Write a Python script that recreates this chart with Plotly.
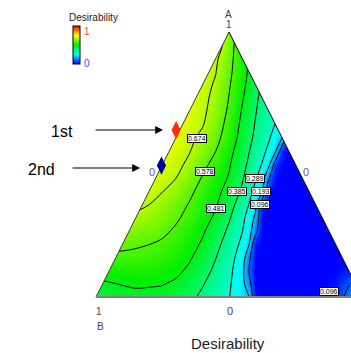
import plotly.graph_objects as go

# ---------------- data ----------------
# grid coordinates of the mixture triangle: u = C + A/2 (along base B->C), v = A (height)
grid_u = [0.00, 0.05, 0.10, 0.15, 0.20, 0.25, 0.30, 0.35, 0.40, 0.45, 0.50, 0.55,
          0.575, 0.60, 0.625, 0.65, 0.675, 0.70, 0.725,
          0.75, 0.80, 0.85, 0.90, 0.95, 1.00]
grid_v = [0.00, 0.05, 0.10, 0.15, 0.20, 0.25, 0.30, 0.35, 0.40, 0.45, 0.50,
          0.55, 0.60, 0.65, 0.70, 0.75, 0.80, 0.85, 0.90, 0.95, 1.00]

# desirability (rows = grid_v, columns = grid_u)
desirability = [
    [0.440, 0.447, 0.456, 0.461, 0.460, 0.456, 0.438, 0.406, 0.369, 0.331, 0.292, 0.230, 0.198, 0.010, 0, 0, 0, 0, 0, 0, 0, 0, 0.040, 0.130, 0.200],
    [0.467, 0.477, 0.485, 0.492, 0.489, 0.485, 0.469, 0.436, 0.392, 0.346, 0.301, 0.224, 0.132, 0, 0, 0, 0, 0, 0, 0, 0, 0, 0.020, 0.090, 0.150],
    [0.505, 0.514, 0.521, 0.525, 0.521, 0.513, 0.500, 0.467, 0.421, 0.366, 0.313, 0.222, 0.090, 0, 0, 0, 0, 0, 0, 0, 0, 0, 0, 0.030, 0.080],
    [0.545, 0.553, 0.560, 0.558, 0.552, 0.540, 0.522, 0.493, 0.445, 0.388, 0.328, 0.240, 0.121, 0, 0, 0, 0, 0, 0, 0, 0, 0, 0, 0, 0.020],
    [0.615, 0.606, 0.597, 0.588, 0.579, 0.565, 0.543, 0.511, 0.472, 0.411, 0.346, 0.268, 0.199, 0.015, 0, 0, 0, 0, 0, 0, 0, 0, 0, 0, 0],
    [0.670, 0.654, 0.637, 0.625, 0.615, 0.595, 0.566, 0.529, 0.493, 0.438, 0.369, 0.292, 0.230, 0.127, 0, 0, 0, 0, 0, 0, 0, 0, 0, 0, 0],
    [0.680, 0.675, 0.670, 0.661, 0.645, 0.619, 0.591, 0.554, 0.514, 0.468, 0.395, 0.311, 0.253, 0.172, 0, 0, 0, 0, 0, 0, 0, 0, 0, 0, 0],
    [0.700, 0.700, 0.695, 0.690, 0.675, 0.642, 0.608, 0.574, 0.532, 0.490, 0.423, 0.337, 0.288, 0.221, 0.035, 0, 0, 0, 0, 0, 0, 0, 0, 0, 0],
    [0.720, 0.720, 0.715, 0.710, 0.696, 0.677, 0.639, 0.596, 0.551, 0.507, 0.450, 0.372, 0.319, 0.261, 0.195, 0, 0, 0, 0, 0, 0, 0, 0, 0, 0],
    [0.730, 0.730, 0.730, 0.725, 0.720, 0.699, 0.676, 0.625, 0.573, 0.525, 0.475, 0.394, 0.347, 0.300, 0.234, 0.109, 0, 0, 0, 0, 0, 0, 0, 0, 0],
    [0.735, 0.735, 0.735, 0.735, 0.730, 0.720, 0.694, 0.659, 0.603, 0.546, 0.490, 0.412, 0.370, 0.328, 0.283, 0.208, 0.052, 0, 0, 0, 0, 0, 0, 0, 0],
    [0.740, 0.740, 0.740, 0.740, 0.740, 0.735, 0.710, 0.679, 0.631, 0.578, 0.508, 0.430, 0.388, 0.351, 0.313, 0.265, 0.196, 0.026, 0, 0, 0, 0, 0, 0, 0],
    [0.740, 0.740, 0.740, 0.740, 0.740, 0.740, 0.730, 0.695, 0.654, 0.603, 0.533, 0.447, 0.405, 0.368, 0.333, 0.298, 0.245, 0.190, 0, 0, 0, 0, 0, 0, 0],
    [0.740, 0.740, 0.740, 0.740, 0.740, 0.740, 0.735, 0.710, 0.680, 0.622, 0.548, 0.460, 0.418, 0.379, 0.347, 0.316, 0.284, 0.250, 0.200, 0.150, 0.050, 0, 0, 0, 0],
    [0.730, 0.730, 0.730, 0.730, 0.730, 0.730, 0.730, 0.720, 0.690, 0.640, 0.563, 0.474, 0.431, 0.389, 0.357, 0.326, 0.300, 0.270, 0.235, 0.200, 0.100, 0, 0, 0, 0],
    [0.720, 0.720, 0.720, 0.720, 0.720, 0.720, 0.720, 0.720, 0.695, 0.652, 0.575, 0.488, 0.445, 0.402, 0.360, 0.320, 0.295, 0.270, 0.235, 0.200, 0.100, 0, 0, 0, 0],
    [0.710, 0.710, 0.710, 0.710, 0.710, 0.710, 0.710, 0.710, 0.700, 0.665, 0.586, 0.502, 0.459, 0.418, 0.375, 0.335, 0.310, 0.280, 0.240, 0.200, 0.100, 0, 0, 0, 0],
    [0.710, 0.710, 0.710, 0.710, 0.710, 0.710, 0.710, 0.710, 0.710, 0.677, 0.597, 0.515, 0.470, 0.432, 0.400, 0.370, 0.335, 0.300, 0.250, 0.200, 0.100, 0, 0, 0, 0],
    [0.700, 0.700, 0.700, 0.700, 0.700, 0.700, 0.700, 0.700, 0.700, 0.690, 0.607, 0.515, 0.465, 0.420, 0.395, 0.370, 0.335, 0.300, 0.250, 0.200, 0.100, 0, 0, 0, 0],
    [0.720, 0.720, 0.720, 0.720, 0.720, 0.720, 0.720, 0.720, 0.720, 0.726, 0.622, 0.506, 0.450, 0.390, 0.370, 0.350, 0.325, 0.300, 0.250, 0.200, 0.100, 0, 0, 0, 0],
    [0.720, 0.720, 0.720, 0.720, 0.720, 0.720, 0.720, 0.720, 0.720, 0.720, 0.630, 0.520, 0.460, 0.400, 0.375, 0.350, 0.325, 0.300, 0.250, 0.200, 0.100, 0, 0, 0, 0],
]

contour_levels = [0.096, 0.193, 0.289, 0.385, 0.481, 0.578, 0.674]

# optimisation solutions (position in the triangle)
solution_names = ["1st", "2nd"]
solution_u = [0.301, 0.246]
solution_v = [0.630, 0.496]

# triangle corners (u, v) : B, A, C
tri_u = [0.0, 0.5, 1.0]
tri_v = [0.0, 1.0, 0.0]

title_text = "Desirability"

# ---------------- layout geometry (pixels) ----------------
W, H = 351, 353
BX, CX, AY, BASEY = 96.0, 362.0, 32.0, 297.0


def ux(px):
    return (px - BX) / (CX - BX)


def vy(py):
    return (BASEY - py) / (BASEY - AY)


FONT = "Liberation Sans, Arial, sans-serif"
colorscale = [[0.0, "rgb(0,0,255)"], [0.25, "rgb(0,255,255)"], [0.5, "rgb(0,240,0)"],
              [0.75, "rgb(255,255,0)"], [1.0, "rgb(255,0,0)"]]

fig = go.Figure()

fig.add_trace(go.Heatmap(
    x=grid_u, y=grid_v, z=desirability, zsmooth="best",
    colorscale=colorscale, zmin=0, zmax=1, hoverinfo="skip",
    showscale=True,
    colorbar=dict(x=73 / W, xanchor="left", y=1 - 45 / H, yanchor="middle",
                  len=38, lenmode="pixels", thickness=7, thicknessmode="pixels",
                  outlinewidth=1, outlinecolor="black", xpad=0, ypad=0,
                  showticklabels=False, ticks=""),
))

step = (contour_levels[-1] - contour_levels[0]) / (len(contour_levels) - 1)
fig.add_trace(go.Contour(
    x=grid_u, y=grid_v, z=desirability, showscale=False, hoverinfo="skip",
    contours=dict(start=contour_levels[0], end=contour_levels[-1] + step * 0.01,
                  size=step, coloring="none"),
    line=dict(color="black", width=1, smoothing=1),
))

# white masks outside the triangle
white = dict(mode="lines", fill="toself", fillcolor="white", line=dict(width=0, color="white"),
             hoverinfo="skip", showlegend=False)
fig.add_trace(go.Scatter(x=[-2, tri_u[0], tri_u[0], tri_u[1], tri_u[1] + 0.1, -2],
                         y=[-0.1, -0.1, tri_v[0], tri_v[1], 3, 3], **white))
fig.add_trace(go.Scatter(x=[3, tri_u[2], tri_u[2], tri_u[1], tri_u[1] - 0.1, 3],
                         y=[-0.1, -0.1, tri_v[2], tri_v[1], 3, 3], **white))
fig.add_trace(go.Scatter(x=[-2, 3, 3, -2], y=[-1, -1, 0, 0], **white))

# triangle outline
fig.add_trace(go.Scatter(x=tri_u[:2], y=tri_v[:2], mode="lines",
                         line=dict(color="#3a3a3a", width=1), hoverinfo="skip", showlegend=False))
fig.add_trace(go.Scatter(x=tri_u[1:], y=tri_v[1:], mode="lines",
                         line=dict(color="black", width=1), hoverinfo="skip", showlegend=False))
fig.add_trace(go.Scatter(x=[tri_u[0], tri_u[2]], y=[tri_v[0], tri_v[2]], mode="lines",
                         line=dict(color="#808080", width=2), hoverinfo="skip", showlegend=False))

# solution flags
fig.add_trace(go.Scatter(x=solution_u, y=solution_v, mode="markers",
                         marker=dict(symbol="diamond-tall", size=13,
                                     color=["rgb(255,45,0)", "rgb(0,0,150)"], line=dict(width=0)),
                         hoverinfo="skip", showlegend=False))

ann = []


def txt(px, py, s, size=10, color="#333333", **kw):
    ann.append(dict(x=ux(px), y=vy(py), xref="x", yref="y", text=s, showarrow=False,
                    font=dict(family=FONT, size=size, color=color), **kw))


# contour labels
label_pos = [(197, 138.3), (204.7, 171.8), (216.3, 208.5), (237, 191.8),
             (255, 178.5), (261.3, 191.8), (259.7, 204.2), (328.8, 291.3)]
label_idx = [6, 5, 4, 3, 2, 1, 0, 0]
for (px, py), i in zip(label_pos, label_idx):
    ann.append(dict(x=ux(px), y=vy(py), xref="x", yref="y", text=f"{contour_levels[i]:.3f}",
                    showarrow=False, font=dict(family=FONT, size=7, color="black"),
                    bgcolor="white", bordercolor="black", borderwidth=1, borderpad=0))

# vertex / axis labels
txt(228, 14, "A", 10, "#444444")
txt(229, 24, "1", 10, "#444444")
txt(99, 311, "1", 10, "#444444")
txt(100, 326, "B", 10, "#444444")
txt(230, 311, "0", 11, "#444444")
txt(151.5, 171.5, "0", 11, "#666666")
txt(306, 172, "0", 11, "#666666")
txt(228, 343, title_text, 15, "#222222")

# legend text
txt(67, 17.5, "Desirability", 10, "#222222", xanchor="left")
txt(87, 31, "1", 10, "rgb(255,60,60)")
txt(87, 63, "0", 10, "rgb(70,70,255)")

# solution annotations with arrows
txt(62, 131, solution_names[0], 16, "black")
txt(41, 169, solution_names[1], 16, "black")
for (x0, x1, yy) in [(94, 163, 130), (71, 140, 168)]:
    ann.append(dict(x=ux(x1), y=vy(yy), ax=ux(x0), ay=vy(yy), xref="x", yref="y",
                    axref="x", ayref="y", text="", showarrow=True, arrowhead=2,
                    arrowsize=1.3, arrowwidth=1.2, arrowcolor="black", standoff=0))

fig.update_layout(
    width=W, height=H, autosize=False,
    margin=dict(l=0, r=0, t=0, b=0, pad=0),
    paper_bgcolor="white", plot_bgcolor="white",
    showlegend=False,
    xaxis=dict(range=[ux(0), ux(W)], visible=False, fixedrange=True),
    yaxis=dict(range=[vy(H), vy(0)], visible=False, fixedrange=True),
    annotations=ann,
)

fig.write_html("out.html", config={"staticPlot": True},
               post_script="document.body.style.margin='0px';document.body.style.overflow='hidden';")
